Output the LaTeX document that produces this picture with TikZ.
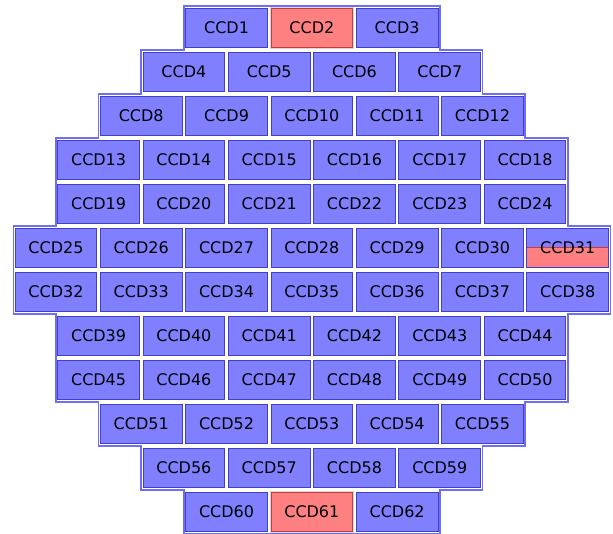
\documentclass[tikz,border=0pt]{standalone}
\usepackage{fontspec}
\setmainfont{DejaVu Sans}
\usepackage{tikz}
\usepackage{xcolor}
\definecolor{ccdblue}{RGB}{128,128,255}
\definecolor{ccdedge}{RGB}{64,64,200}
\definecolor{ccdline}{RGB}{110,110,250}
\definecolor{ccdred}{RGB}{255,128,128}
\definecolor{rededge}{RGB}{200,60,60}

\begin{document}
\begin{tikzpicture}[x=85.3pt, y=44pt,
    ccd/.style={draw=ccdedge, fill=ccdblue, line width=1pt, inner sep=0pt,
        minimum width=81.7pt, minimum height=39.3pt,
        font=\fontsize{16pt}{19pt}\selectfont},
    guasto/.style={ccd, draw=rededge, fill=ccdred,
        preaction={draw=gray!30, line width=3pt}},
    mezzo/.style={ccd, path picture={\draw[rededge, fill=ccdred, line width=1pt]
        (path picture bounding box.west) rectangle (path picture bounding box.south east);}},
    contorno/.style={draw=ccdline, line width=1.6pt}]
    \useasboundingbox (-3.656,-6.001) rectangle (3.5305,6.135);

    % Contorno
    \draw[contorno] (-1.5,6) -- (1.5,6) -- (1.5,5) -- (2,5) -- (2,4) -- (2.5,4) -- (2.5,3)
        -- (3,3) -- (3,1) -- (3.5,1) -- (3.5,-1) -- (3,-1) -- (3,-3) -- (2.5,-3)
        -- (2.5,-4) -- (2,-4) -- (2,-5) -- (1.5,-5) -- (1.5,-6) -- (-1.5,-6)
        -- (-1.5,-5) -- (-2,-5) -- (-2,-4) -- (-2.5,-4) -- (-2.5,-3) -- (-3,-3)
        -- (-3,-1) -- (-3.5,-1) -- (-3.5,1) -- (-3,1) -- (-3,3) -- (-2.5,3)
        -- (-2.5,4) -- (-2,4) -- (-2,5) -- (-1.5,5) -- cycle;

    % Riga 1
    \node[ccd] (ccd1) at (-1,5.5) {CCD1};
    \node[guasto] (ccd2) at (0,5.5) {CCD2};
    \node[ccd] (ccd3) at (1,5.5) {CCD3};

    % Riga 2
    \node[ccd] (ccd4) at (-1.5,4.5) {CCD4};
    \node[ccd] (ccd5) at (-0.5,4.5) {CCD5};
    \node[ccd] (ccd6) at (0.5,4.5) {CCD6};
    \node[ccd] (ccd7) at (1.5,4.5) {CCD7};

    % Riga 3
    \node[ccd] (ccd8) at (-2,3.5) {CCD8};
    \node[ccd] (ccd9) at (-1,3.5) {CCD9};
    \node[ccd] (ccd10) at (0,3.5) {CCD10};
    \node[ccd] (ccd11) at (1,3.5) {CCD11};
    \node[ccd] (ccd12) at (2,3.5) {CCD12};

    % Riga 4
    \node[ccd] (ccd13) at (-2.5,2.5) {CCD13};
    \node[ccd] (ccd14) at (-1.5,2.5) {CCD14};
    \node[ccd] (ccd15) at (-0.5,2.5) {CCD15};
    \node[ccd] (ccd16) at (0.5,2.5) {CCD16};
    \node[ccd] (ccd17) at (1.5,2.5) {CCD17};
    \node[ccd] (ccd18) at (2.5,2.5) {CCD18};

    % Riga 5
    \node[ccd] (ccd19) at (-2.5,1.5) {CCD19};
    \node[ccd] (ccd20) at (-1.5,1.5) {CCD20};
    \node[ccd] (ccd21) at (-0.5,1.5) {CCD21};
    \node[ccd] (ccd22) at (0.5,1.5) {CCD22};
    \node[ccd] (ccd23) at (1.5,1.5) {CCD23};
    \node[ccd] (ccd24) at (2.5,1.5) {CCD24};

    % Riga 6
    \node[ccd] (ccd25) at (-3,0.5) {CCD25};
    \node[ccd] (ccd26) at (-2,0.5) {CCD26};
    \node[ccd] (ccd27) at (-1,0.5) {CCD27};
    \node[ccd] (ccd28) at (0,0.5) {CCD28};
    \node[ccd] (ccd29) at (1,0.5) {CCD29};
    \node[ccd] (ccd30) at (2,0.5) {CCD30};
    \node[mezzo] (ccd31) at (3,0.5) {CCD31};

    % Riga 7
    \node[ccd] (ccd32) at (-3,-0.5) {CCD32};
    \node[ccd] (ccd33) at (-2,-0.5) {CCD33};
    \node[ccd] (ccd34) at (-1,-0.5) {CCD34};
    \node[ccd] (ccd35) at (0,-0.5) {CCD35};
    \node[ccd] (ccd36) at (1,-0.5) {CCD36};
    \node[ccd] (ccd37) at (2,-0.5) {CCD37};
    \node[ccd] (ccd38) at (3,-0.5) {CCD38};

    % Riga 8
    \node[ccd] (ccd39) at (-2.5,-1.5) {CCD39};
    \node[ccd] (ccd40) at (-1.5,-1.5) {CCD40};
    \node[ccd] (ccd41) at (-0.5,-1.5) {CCD41};
    \node[ccd] (ccd42) at (0.5,-1.5) {CCD42};
    \node[ccd] (ccd43) at (1.5,-1.5) {CCD43};
    \node[ccd] (ccd44) at (2.5,-1.5) {CCD44};

    % Riga 9
    \node[ccd] (ccd45) at (-2.5,-2.5) {CCD45};
    \node[ccd] (ccd46) at (-1.5,-2.5) {CCD46};
    \node[ccd] (ccd47) at (-0.5,-2.5) {CCD47};
    \node[ccd] (ccd48) at (0.5,-2.5) {CCD48};
    \node[ccd] (ccd49) at (1.5,-2.5) {CCD49};
    \node[ccd] (ccd50) at (2.5,-2.5) {CCD50};

    % Riga 10
    \node[ccd] (ccd51) at (-2,-3.5) {CCD51};
    \node[ccd] (ccd52) at (-1,-3.5) {CCD52};
    \node[ccd] (ccd53) at (0,-3.5) {CCD53};
    \node[ccd] (ccd54) at (1,-3.5) {CCD54};
    \node[ccd] (ccd55) at (2,-3.5) {CCD55};

    % Riga 11
    \node[ccd] (ccd56) at (-1.5,-4.5) {CCD56};
    \node[ccd] (ccd57) at (-0.5,-4.5) {CCD57};
    \node[ccd] (ccd58) at (0.5,-4.5) {CCD58};
    \node[ccd] (ccd59) at (1.5,-4.5) {CCD59};

    % Riga 12
    \node[ccd] (ccd60) at (-1,-5.5) {CCD60};
    \node[guasto] (ccd61) at (0,-5.5) {CCD61};
    \node[ccd] (ccd62) at (1,-5.5) {CCD62};
\end{tikzpicture}
\end{document}
